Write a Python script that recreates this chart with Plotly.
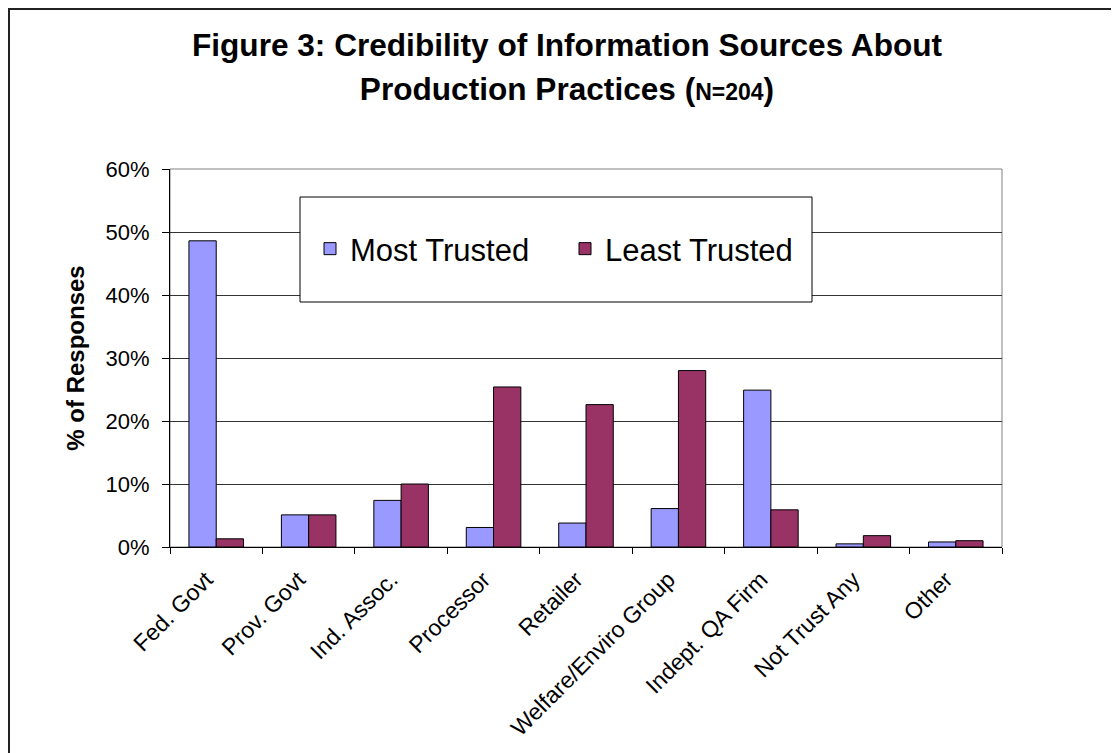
import plotly.graph_objects as go

categories = ["Fed. Govt", "Prov. Govt", "Ind. Assoc.", "Processor", "Retailer",
              "Welfare/Enviro Group", "Indept. QA Firm", "Not Trust Any", "Other"]
most_trusted = [0.486, 0.051, 0.074, 0.031, 0.038, 0.061, 0.249, 0.005, 0.008]
least_trusted = [0.013, 0.051, 0.100, 0.254, 0.226, 0.280, 0.059, 0.018, 0.010]
y_ticks = [0, 0.1, 0.2, 0.3, 0.4, 0.5, 0.6]

FONT = "Liberation Sans, Arial, sans-serif"

# page has an 8px body margin; figure size compensates so it fills the window
W, H = 1111, 745
L, T, R, B = 162, 161, 117, 206
PW, PH = W - L - R, H - T - B


def px_x(x):  # page x -> paper x
    return (x - 8 - L) / PW


def px_y(y):  # page y -> paper y
    return (H - B - (y - 8)) / PH


fig = go.Figure()
fig.add_trace(go.Bar(name="Most Trusted", x=categories, y=most_trusted,
                     marker=dict(color="#9999FF", line=dict(color="#000000", width=1))))
fig.add_trace(go.Bar(name="Least Trusted", x=categories, y=least_trusted,
                     marker=dict(color="#993366", line=dict(color="#000000", width=1))))

title_text = ("<span style='font-size:31.6px'>Figure 3: Credibility of Information Sources About</span><br>"
              "<span style='font-size:31.6px'>Production Practices (</span>"
              "<span style='font-size:23px'>N=204</span>"
              "<span style='font-size:31.6px'>)</span>")

fig.update_layout(
    width=W, height=H,
    margin=dict(l=L, r=R, t=T, b=B, autoexpand=False),
    paper_bgcolor="white", plot_bgcolor="white",
    font=dict(family=FONT, color="#000000", size=22),
    title=dict(text=title_text, x=(567 - 8) / W, xanchor="center", y=1 - 48 / H, yanchor="top",
               font=dict(family=FONT, size=34, color="#000000", weight="bold")),
    barmode="group", bargap=0.41, bargroupgap=0,
    showlegend=True,
    legend=dict(orientation="h", x=px_x(310), xanchor="left", y=px_y(249), yanchor="middle",
                bgcolor="rgba(0,0,0,0)", borderwidth=0,
                font=dict(family=FONT, size=31, color="#000000"),
                entrywidth=210, entrywidthmode="pixels"),
    xaxis=dict(showline=True, linecolor="#000000", linewidth=1,
               ticks="outside", ticklen=6, tickcolor="#000000", tickson="boundaries",
               tickangle=-45, tickfont=dict(family=FONT, size=23, color="#000000"),
               ticklabelshift=-10, ticklabelstandoff=9,
               showgrid=False, automargin=False),
    yaxis=dict(range=[0, 0.6], tickvals=y_ticks, tickformat=".0%",
               showline=True, linecolor="#000000", linewidth=1,
               ticks="outside", ticklen=7, tickcolor="#000000",
               tickfont=dict(family=FONT, size=22, color="#000000"), ticklabelstandoff=8,
               showgrid=True, gridcolor="#333333", gridwidth=1, zeroline=False,
               title=dict(text="<b>% of Responses</b>", standoff=14,
                          font=dict(family=FONT, size=24, color="#000000")),
               automargin=False),
    shapes=[
        dict(type="rect", xref="paper", yref="paper", x0=0, x1=1, y0=0, y1=1,
             line=dict(color="#808080", width=1), fillcolor="rgba(0,0,0,0)", layer="below"),
        dict(type="rect", xref="paper", yref="paper",
             x0=px_x(300), x1=px_x(812), y0=px_y(302), y1=px_y(197),
             line=dict(color="#000000", width=1), fillcolor="white", layer="above"),
        dict(type="rect", xref="paper", yref="paper",
             x0=px_x(9), x1=px_x(1130), y0=px_y(765), y1=px_y(9),
             line=dict(color="#222222", width=2), fillcolor="rgba(0,0,0,0)", layer="above"),
    ],
)

fig.write_html("out.html")
